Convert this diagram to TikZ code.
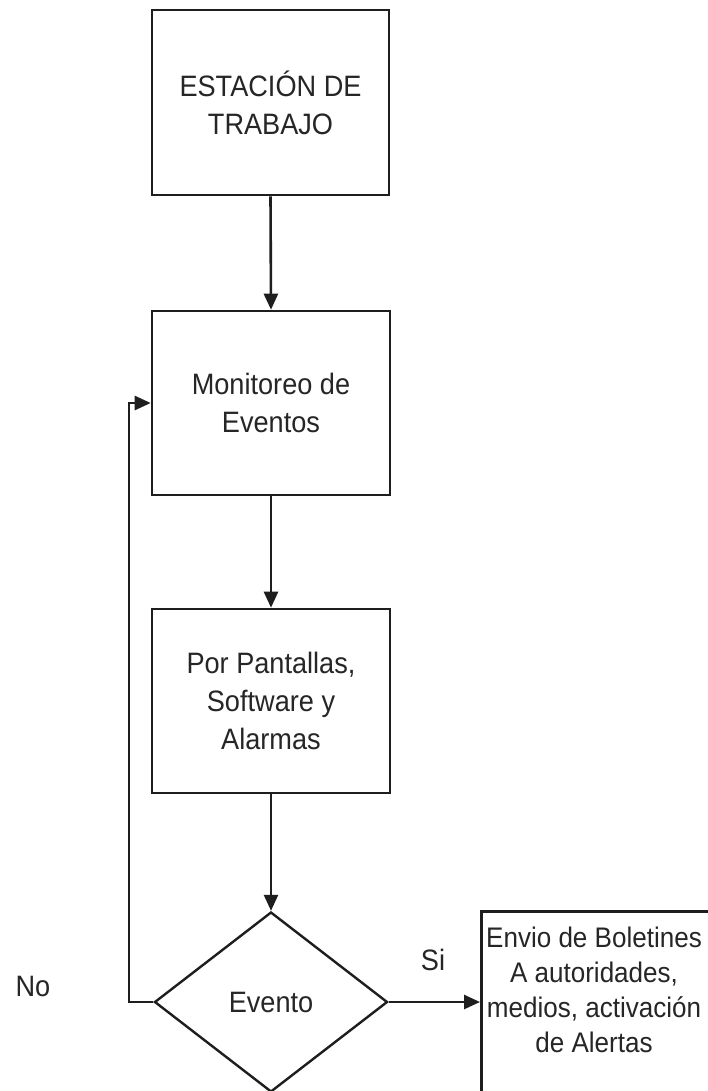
\documentclass[tikz,border=0pt]{standalone}
\usepackage{fontspec}
\setmainfont{Liberation Sans}[FakeStretch=0.92]
\usetikzlibrary{shapes.geometric,arrows.meta}
\definecolor{linec}{HTML}{1E1E1E}
\definecolor{textc}{HTML}{262626}
\begin{document}
\begin{tikzpicture}[x=1pt,y=-1pt,
  every node/.style={text=textc,font=\fontsize{29.5}{38}\selectfont},
  box/.style={draw=linec,line width=2.6pt,rectangle,minimum width=238pt,minimum height=184pt,align=center,inner sep=0pt},
  decision/.style={draw=linec,line width=2.4pt,diamond,minimum width=233pt,minimum height=180pt,inner sep=0pt},
  conn/.style={draw=linec,line width=2.6pt,-{Triangle[length=16pt,width=14pt]}},
  lbl/.style={inner sep=0pt}]
\useasboundingbox (0,0) rectangle (708,1091);
\clip (0,0) rectangle (708,1091);
\fill[white] (0,0) rectangle (708,1091);
\node[box,minimum width=237pt,minimum height=185pt] (b1) at (270.5,102.5) {ESTACIÓN DE\\TRABAJO};
\node[box] (b2) at (271,403) {Monitoreo de\\Eventos};
\node[box] (b3) at (271,701) {Por Pantallas,\\Software y\\Alarmas};
\node[decision] (d) at (271,1002) {Evento};
\node[draw=linec,line width=2.6pt,rectangle,minimum width=250pt,minimum height=220pt,anchor=north west,inner sep=0pt] (rb) at (480,910) {};
\node[align=center,inner sep=0pt,font=\fontsize{28.3}{35}\selectfont] (rbt) at (594,990) {Envio de Boletines\\A autoridades,\\medios, activación\\de Alertas};
\draw[conn] (b1.south) -- (b2.north);
\draw[conn] (b2.south) -- (b3.north);
\draw[conn] (b3.south) -- (d.north);
\draw[conn] (d.east) -- (d.east -| rb.west);
\coordinate (lp) at (129,1002);
\draw[conn] (d.west) -- (lp) |- (b2.west);
\node[lbl] (si) at (433,960) {Si};
\node[lbl] (no) at (33,986) {No};
\end{tikzpicture}
\end{document}
